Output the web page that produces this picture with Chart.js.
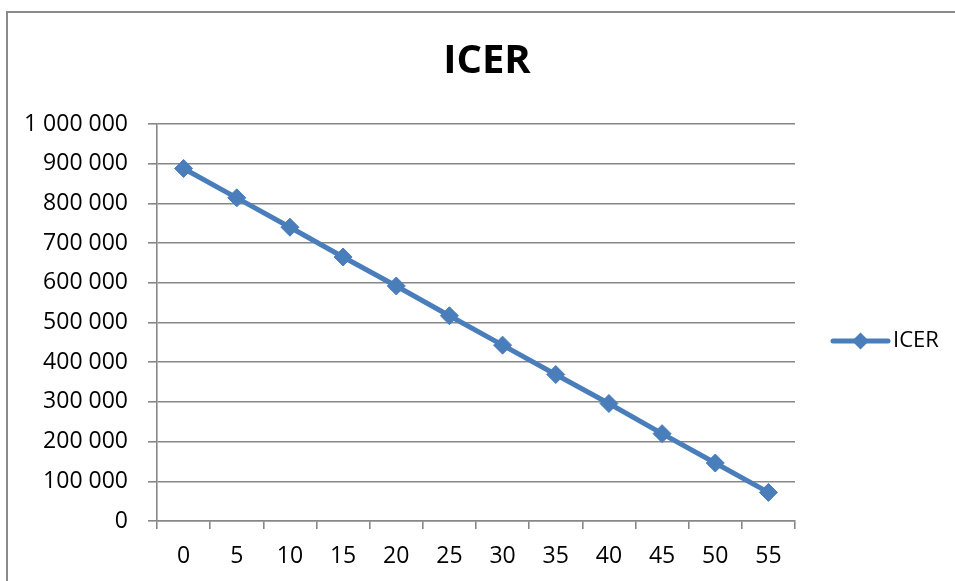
<!DOCTYPE html>
<html>
<head>
<meta charset="utf-8">
<style>
  html, body { margin: 0; padding: 0; background: #ffffff; }
  #wrap { width: 955px; height: 581px; position: relative; }
</style>
<script src="https://cdn.jsdelivr.net/npm/chart.js@4/dist/chart.umd.min.js"></script>
</head>
<body>
<div id="wrap"><canvas id="chart" width="955" height="581"></canvas></div>
<script>
// Years of follow-up on the horizontal axis
const categories = ['0', '5', '10', '15', '20', '25', '30', '35', '40', '45', '50', '55'];
// Incremental cost-effectiveness ratio for each point
const icerValues = [888000, 814000, 740000, 665000, 592000, 517000, 443000, 369000, 296000, 220000, 146000, 72000];
const seriesName = 'ICER';
const chartTitle = 'ICER';
const yMin = 0, yMax = 1000000, yStep = 100000;

const BLUE = '#4a7ebb';
const GRID = '#878787';
const FONT = '"Open Sans", "Liberation Sans", sans-serif';

// Group thousands with spaces: 1 000 000
function spaced(v) {
  return String(Math.round(v)).replace(/\B(?=(\d{3})+(?!\d))/g, ' ');
}

// Outer frame, title and the right-hand legend
const decorations = {
  id: 'decorations',
  beforeDraw(chart) {
    const ctx = chart.ctx;
    ctx.save();
    ctx.fillStyle = '#ffffff';
    ctx.fillRect(0, 0, chart.width, chart.height);
    ctx.strokeStyle = '#8a8a8a';
    ctx.lineWidth = 2;
    ctx.strokeRect(7, 12, chart.width + 20, chart.height + 20);
    ctx.restore();
  },
  afterDraw(chart) {
    const ctx = chart.ctx;
    const area = chart.chartArea;
    ctx.save();
    // title
    ctx.fillStyle = '#000000';
    ctx.font = '700 40px ' + FONT;
    ctx.textAlign = 'center';
    ctx.textBaseline = 'middle';
    ctx.fillText(chartTitle, 487, 62);

    // legend: line sample with a diamond, then the series name
    const ly = 341;
    const lx0 = area.right + 38, lx1 = lx0 + 55;
    ctx.strokeStyle = BLUE;
    ctx.lineWidth = 5;
    ctx.lineCap = 'round';
    ctx.beginPath();
    ctx.moveTo(lx0, ly);
    ctx.lineTo(lx1, ly);
    ctx.stroke();
    const cx = (lx0 + lx1) / 2, r = 8.5;
    ctx.fillStyle = BLUE;
    ctx.beginPath();
    ctx.moveTo(cx, ly - r);
    ctx.lineTo(cx + r, ly);
    ctx.lineTo(cx, ly + r);
    ctx.lineTo(cx - r, ly);
    ctx.closePath();
    ctx.fill();
    ctx.fillStyle = '#000000';
    ctx.font = '400 22px ' + FONT;
    ctx.textAlign = 'left';
    ctx.fillText(seriesName, lx1 + 5, ly);
    ctx.restore();
  }
};

new Chart(document.getElementById('chart'), {
  type: 'line',
  data: {
    labels: categories,
    datasets: [{
      label: seriesName,
      data: icerValues,
      borderColor: BLUE,
      backgroundColor: BLUE,
      borderWidth: 5,
      pointStyle: 'rectRot',
      pointRadius: 9,
      pointBorderWidth: 1,
      pointBorderColor: BLUE,
      pointBackgroundColor: BLUE,
      pointHoverRadius: 9,
      tension: 0,
      fill: false
    }]
  },
  options: {
    responsive: false,
    animation: false,
    devicePixelRatio: 1,
    layout: { padding: { top: 124, right: 160, bottom: 0, left: 0 } },
    plugins: {
      legend: { display: false },
      title: { display: false },
      tooltip: { enabled: false }
    },
    scales: {
      x: {
        type: 'category',
        offset: true,
        grid: {
          offset: true,
          drawOnChartArea: false,
          drawTicks: true,
          tickLength: 8,
          color: GRID,
          lineWidth: 1.6
        },
        border: { display: true, color: GRID, width: 1.6 },
        ticks: {
          color: '#000000',
          font: { family: FONT, size: 23 },
          padding: 14,
          maxRotation: 0,
          autoSkip: false
        },
        afterFit(scale) { scale.height = 60; }
      },
      y: {
        min: yMin,
        max: yMax,
        grid: {
          color: GRID,
          lineWidth: 1.6,
          drawTicks: true,
          tickLength: 9
        },
        border: { display: true, color: GRID, width: 1.6 },
        ticks: {
          stepSize: yStep,
          color: '#000000',
          font: { family: FONT, size: 23 },
          padding: 20,
          callback: (v) => spaced(v)
        },
        afterFit(scale) { scale.width = 157; }
      }
    }
  },
  plugins: [decorations]
});
</script>
</body>
</html>
